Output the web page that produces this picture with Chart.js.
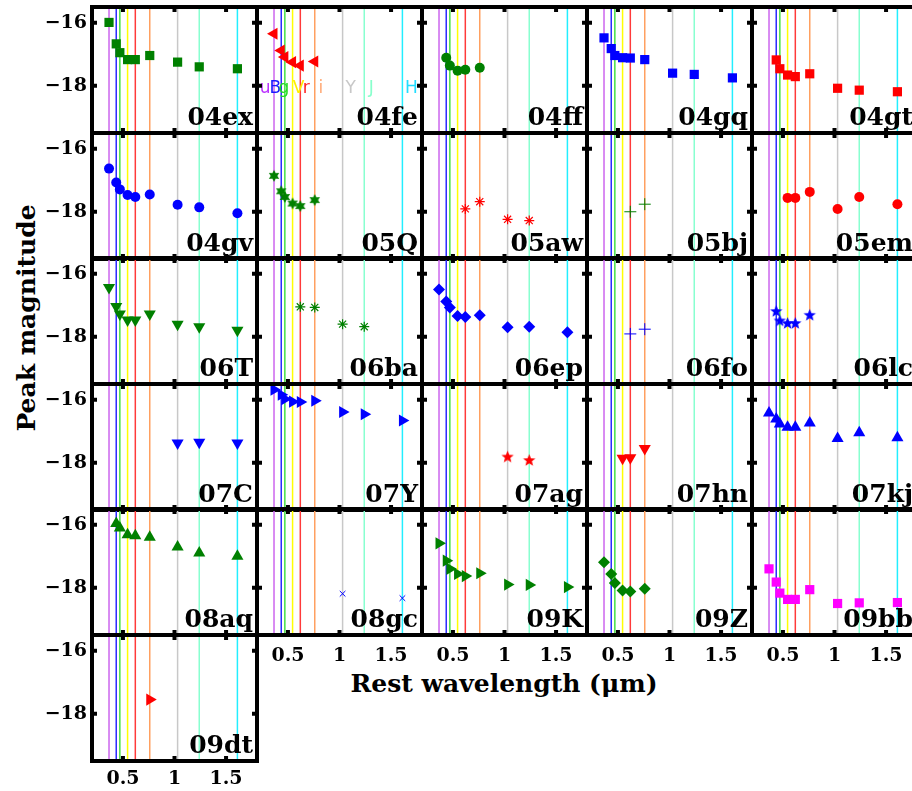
<!DOCTYPE html>
<html>
<head>
<title>Peak magnitudes</title>
<script src="https://cdn.jsdelivr.net/npm/chart.js"></script>
<style>
body { margin: 0; background: #fff; overflow: hidden; }
#fig { position: relative; width: 912px; height: 791px; overflow: hidden; font-family: 'DejaVu Serif', serif; }
#fig canvas { position: absolute; }
.axlabel { position: absolute; font-weight: bold; font-size: 25px; white-space: nowrap; color: #000; }
#ylab { left: 26px; top: 318px; transform: translate(-50%, -50%) rotate(-90deg); }
#xlab { left: 504px; top: 683px; transform: translate(-50%, -50%); }
</style>
</head>
<body>
<div id="fig">
  <div class="axlabel" id="ylab">Peak magnitude</div>
  <div class="axlabel" id="xlab">Rest wavelength (μm)</div>
</div>
<script>
// filters and their rest wavelengths (micron)
const filters = ['u', 'B', 'g', 'V', 'r', 'i', 'Y', 'J', 'H'];
const filterWave = [0.365, 0.435, 0.47, 0.545, 0.62, 0.76, 1.03, 1.24, 1.61];
const xTicks = [0.5, 1, 1.5];
const yTicks = [-16, -18];

// peak magnitudes per filter, u B g V r i Y J H (null = not observed)
const sn04ex = [-15.99, -16.67, -16.95, -17.17, -17.17, -17.04, -17.25, -17.40, -17.46];
const sn04fe = [-16.35, -16.88, -17.09, -17.25, -17.36, -17.23, null, null, null];
const sn04ff = [null, -17.11, -17.36, -17.52, -17.49, -17.43, null, null, null];
const sn04gq = [-16.48, -16.82, -17.04, -17.11, -17.12, -17.17, -17.60, -17.64, -17.75];
const sn04gt = [null, -17.18, -17.46, -17.66, -17.71, -17.62, -18.08, -18.14, -18.19];
const sn04gv = [-16.63, -17.07, -17.29, -17.47, -17.53, -17.45, -17.78, -17.86, -18.05];
const sn05Q  = [-16.86, -17.35, -17.53, -17.74, -17.82, -17.63, null, null, null];
const sn05aw = [null, null, null, null, -17.91, -17.68, -18.24, -18.28, null];
const sn05bj = [null, null, null, null, -18.00, -17.76, null, null, null];
const sn05em = [null, null, null, -17.56, -17.56, -17.37, -17.91, -17.53, -17.76];
const sn06T  = [-16.44, -17.04, -17.28, -17.47, -17.47, -17.28, -17.60, -17.68, -17.79];
const sn06ba = [null, null, null, null, -17.05, -17.07, -17.60, -17.68, null];
const sn06ep = [-16.50, -16.88, -17.07, -17.34, -17.37, -17.32, -17.70, -17.68, -17.86];
const sn06fo = [null, null, null, null, -17.91, -17.76, null, null, null];
const sn06lc = [null, -17.20, -17.50, -17.58, -17.58, -17.32, null, null, null];
const sn07C  = [null, null, null, null, null, null, -17.37, -17.35, -17.37];
const sn07Y  = [-15.68, -15.84, -15.98, -16.06, -16.07, -16.03, -16.39, -16.46, -16.66];
const sn07ag = [null, null, null, null, null, null, -17.82, -17.93, null];
const sn07hn = [null, null, null, -17.86, -17.84, -17.55, null, null, null];
const sn07kj = [-16.42, -16.61, -16.77, -16.87, -16.87, -16.74, -17.23, -17.05, -17.21];
const sn08aq = [null, -15.96, -16.10, -16.32, -16.35, -16.40, -16.71, -16.90, -17.00];
const sn08gc = [null, null, null, null, null, null, -18.19, null, -18.33];
const sn09K  = [-16.59, -17.14, -17.40, -17.56, -17.63, -17.54, -17.90, -17.91, -17.98];
const sn09Z  = [-17.19, -17.56, -17.85, -18.09, -18.12, -18.03, null, null, null];
const sn09bb = [-17.40, -17.82, -18.17, -18.37, -18.37, -18.06, -18.50, -18.48, -18.47];
const sn09dt = [null, null, null, null, null, -17.55, null, null, null];

const snNames = ['04ex', '04fe', '04ff', '04gq', '04gt', '04gv', '05Q', '05aw', '05bj', '05em',
  '06T', '06ba', '06ep', '06fo', '06lc', '07C', '07Y', '07ag', '07hn', '07kj',
  '08aq', '08gc', '09K', '09Z', '09bb', '09dt'];
const peakMags = [sn04ex, sn04fe, sn04ff, sn04gq, sn04gt, sn04gv, sn05Q, sn05aw, sn05bj, sn05em,
  sn06T, sn06ba, sn06ep, sn06fo, sn06lc, sn07C, sn07Y, sn07ag, sn07hn, sn07kj,
  sn08aq, sn08gc, sn09K, sn09Z, sn09bb, sn09dt];

// styling
const filterColors = ['#cc66ee', '#2a2aff', '#44e044', '#ffff00', '#ff3a3a', '#ffa060', '#c8c8c8', '#88ffd0', '#22eeff'];
const filterTextColors = ['#bb33ff', '#1a1aff', '#22dd22', '#ffee00', '#ff2222', '#ffaa77', '#c8c8c8', '#88ffcc', '#22ddff'];
const filterTextNudge = [-9, -6, -1, 6, 6, 6, 8, 7, 9];
const GREEN = '#008000', BLUE = '#0000ff', RED = '#ff0000', MAGENTA = '#ff00ff';
const markers = [
  ['square', GREEN], ['triLeft', RED], ['circle', GREEN], ['square', BLUE], ['square', RED],
  ['circle', BLUE], ['star6', GREEN], ['asterisk', RED], ['plus', GREEN], ['circle', RED],
  ['triDown', GREEN], ['asterisk', GREEN], ['diamond', BLUE], ['plus', BLUE], ['star5', BLUE],
  ['triDown', BLUE], ['triRight', BLUE], ['star5', RED], ['triDown', RED], ['triUp', BLUE],
  ['triUp', GREEN], ['x', BLUE], ['triRight', GREEN], ['diamond', GREEN], ['square', MAGENTA],
  ['triRight', RED]
];

function starImage(n, rOut, rIn, color) {
  const size = Math.ceil(rOut * 2 + 2);
  const c = document.createElement('canvas');
  c.width = c.height = size;
  const g = c.getContext('2d');
  g.fillStyle = color;
  g.beginPath();
  for (let k = 0; k < 2 * n; k++) {
    const rr = k % 2 ? rIn : rOut;
    const a = -Math.PI / 2 + k * Math.PI / n;
    g.lineTo(size / 2 + rr * Math.cos(a), size / 2 + rr * Math.sin(a));
  }
  g.closePath();
  g.fill();
  return c;
}

function markerOptions(shape, color) {
  const filled = { backgroundColor: color, borderColor: color, borderWidth: 0 };
  switch (shape) {
    case 'square': return { ...filled, pointStyle: 'rect', pointRadius: 6.5, pointRotation: 0 };
    case 'circle': return { ...filled, pointStyle: 'circle', pointRadius: 5, pointRotation: 0 };
    case 'diamond': return { ...filled, pointStyle: 'rectRot', pointRadius: 6, pointRotation: 0 };
    case 'triUp': return { ...filled, pointStyle: 'triangle', pointRadius: 7, pointRotation: 0 };
    case 'triDown': return { ...filled, pointStyle: 'triangle', pointRadius: 7, pointRotation: 180 };
    case 'triRight': return { ...filled, pointStyle: 'triangle', pointRadius: 7, pointRotation: 90 };
    case 'triLeft': return { ...filled, pointStyle: 'triangle', pointRadius: 7, pointRotation: 270 };
    case 'star5': return { ...filled, pointStyle: starImage(5, 6.5, 2.8, color), pointRadius: 6, pointRotation: 0 };
    case 'star6': return { ...filled, pointStyle: starImage(6, 6, 3.3, color), pointRadius: 6, pointRotation: 0 };
    case 'asterisk': return { backgroundColor: color, borderColor: color, borderWidth: 1.2, pointStyle: 'star', pointRadius: 5, pointRotation: 0 };
    case 'plus': return { backgroundColor: color, borderColor: color, borderWidth: 1, pointStyle: 'cross', pointRadius: 6, pointRotation: 0 };
    case 'x': return { backgroundColor: color, borderColor: color, borderWidth: 1, pointStyle: 'crossRot', pointRadius: 4, pointRotation: 0 };
  }
}

const panelPlugin = {
  id: 'panel',
  beforeDatasetsDraw(chart) {
    const { ctx, chartArea: a, scales: { x } } = chart;
    ctx.save();
    ctx.lineWidth = 1.5;
    filterWave.forEach((w, k) => {
      const px = x.getPixelForValue(w);
      ctx.strokeStyle = filterColors[k];
      ctx.beginPath();
      ctx.moveTo(px, a.top);
      ctx.lineTo(px, a.bottom);
      ctx.stroke();
    });
    if (chart.options.plugins.panel.name === '04fe') {
      ctx.font = '17px "DejaVu Sans"';
      ctx.textAlign = 'center';
      ctx.textBaseline = 'alphabetic';
      filters.forEach((f, k) => {
        ctx.fillStyle = filterTextColors[k];
        ctx.fillText(f, x.getPixelForValue(filterWave[k]) + filterTextNudge[k], a.top + 86);
      });
    }
    ctx.restore();
  },
  afterDatasetsDraw(chart) {
    const { ctx, chartArea: a, scales: { x, y } } = chart;
    ctx.save();
    ctx.fillStyle = '#000';
    xTicks.forEach(v => {
      const px = x.getPixelForValue(v);
      ctx.fillRect(px - 2, a.top, 4, 5);
      ctx.fillRect(px - 2, a.bottom - 5, 4, 5);
    });
    yTicks.forEach(v => {
      const py = y.getPixelForValue(v);
      ctx.fillRect(a.left, py - 2, 5, 4);
      ctx.fillRect(a.right - 5, py - 2, 5, 4);
    });
    ctx.strokeStyle = '#000';
    ctx.lineWidth = 4;
    ctx.lineJoin = 'miter';
    ctx.strokeRect(a.left, a.top, a.right - a.left, a.bottom - a.top);
    ctx.font = 'bold 25px "DejaVu Serif"';
    ctx.textAlign = 'right';
    ctx.textBaseline = 'alphabetic';
    ctx.fillText(chart.options.plugins.panel.name, a.right - 4, a.bottom - 8);
    ctx.restore();
  }
};

// fixed axis box sizes so every panel gets the same plot area
function fixBox(shown, size, vertical) {
  return s => {
    if (!shown) { s.width = 0; s.height = 0; }
    else if (vertical) s.width = size; else s.height = size;
    s.paddingTop = 0; s.paddingBottom = 0; s.paddingLeft = 0; s.paddingRight = 0;
  };
}

const fig = document.getElementById('fig');
const PW = 165, PH = 126;

snNames.forEach((name, idx) => {
  const r = Math.floor(idx / 5), c = idx % 5;
  const left = 92 + c * PW;
  const top = Math.round(7 + r * 125.6);
  const showY = c === 0;
  const showX = (r === 4 && c > 0) || r === 5;
  const padL = showY ? 92 : 0;
  const padB = showX ? 40 : 0;

  const canvas = document.createElement('canvas');
  canvas.width = PW + 8 + padL;
  canvas.height = PH + 8 + padB;
  canvas.style.left = (left - 4 - padL) + 'px';
  canvas.style.top = (top - 4) + 'px';
  fig.appendChild(canvas);

  const pts = [];
  peakMags[idx].forEach((m, k) => { if (m !== null) pts.push({ x: filterWave[k], y: m }); });
  const mk = markerOptions(markers[idx][0], markers[idx][1]);

  new Chart(canvas, {
    type: 'scatter',
    data: { datasets: [{ data: pts, clip: false, ...mk }] },
    options: {
      responsive: false,
      animation: false,
      devicePixelRatio: 1,
      events: [],
      layout: { autoPadding: false, padding: { left: showY ? 0 : 4, right: 4, top: 4, bottom: showX ? 0 : 4 } },
      plugins: { legend: { display: false }, tooltip: { enabled: false }, panel: { name } },
      scales: {
        x: {
          type: 'linear', min: 0.2, max: 1.8, display: showX,
          grid: { display: false, drawTicks: false }, border: { display: false },
          afterBuildTicks: s => { s.ticks = xTicks.map(v => ({ value: v })); },
          afterFit: fixBox(showX, padB + 4, false),
          ticks: {
            autoSkip: false, maxRotation: 0, color: '#000',
            padding: r === 5 ? 7 : 10,
            font: { family: 'DejaVu Serif', weight: 'bold', size: 19 },
            callback: v => String(v)
          }
        },
        y: {
          type: 'linear', min: -19.5, max: -15.5, display: showY,
          grid: { display: false, drawTicks: false }, border: { display: false },
          afterBuildTicks: s => { s.ticks = yTicks.map(v => ({ value: v })); },
          afterFit: fixBox(showY, padL + 4, true),
          ticks: {
            autoSkip: false, color: '#000', padding: 5,
            font: { family: 'DejaVu Serif', weight: 'bold', size: 19 },
            callback: v => '\u2212' + Math.abs(v)
          }
        }
      }
    },
    plugins: [panelPlugin]
  });
});
</script>
</body>
</html>
